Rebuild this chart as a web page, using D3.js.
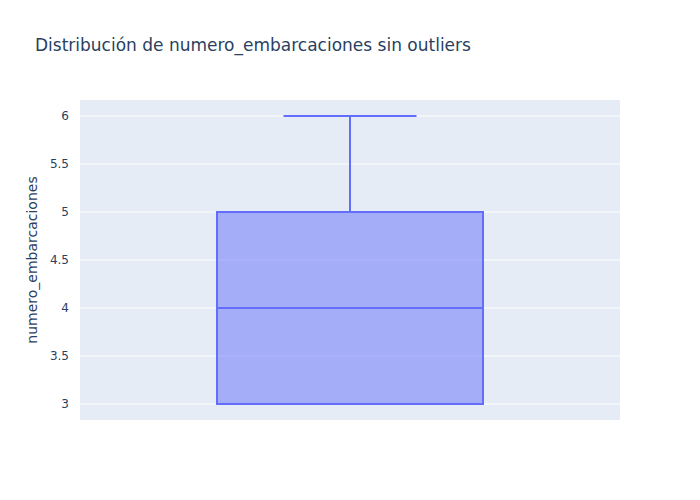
<!DOCTYPE html>
<html>
<head>
<meta charset="utf-8">
<script src="https://cdn.jsdelivr.net/npm/d3@7"></script>
<style>
body { margin: 0; background: #fff; }
svg { display: block; font-family: "DejaVu Sans", verdana, arial, sans-serif; }
</style>
</head>
<body>
<div id="chart"></div>
<script>
const categories = ["numero_embarcaciones"];
const lowerFence = [3];
const q1 = [3];
const median = [4];
const q3 = [5];
const upperFence = [6];
const yTicks = [3, 3.5, 4, 4.5, 5, 5.5, 6];

const W = 700, H = 500;
const m = { l: 80, r: 80, t: 100, b: 80 };
const FONT = '"DejaVu Sans", verdana, arial, sans-serif';
const svg = d3.select("#chart").append("svg").attr("width", W).attr("height", H);

svg.append("rect").attr("x", m.l).attr("y", m.t)
  .attr("width", W - m.l - m.r).attr("height", H - m.t - m.b).attr("fill", "#e5ecf6");

const y = d3.scaleLinear().domain([2.8333, 6.1667]).range([H - m.b, m.t]);
const x = d3.scaleBand().domain(categories).range([m.l, W - m.r]);

// grid
svg.append("g").selectAll("line").data(yTicks).join("line")
  .attr("x1", m.l).attr("x2", W - m.r)
  .attr("y1", d => y(d)).attr("y2", d => y(d))
  .attr("stroke", "#fff").attr("stroke-width", 1);

// y axis labels
const yAxis = d3.axisLeft(y).tickValues(yTicks).tickSize(0).tickPadding(0)
  .tickFormat(d3.format("~g"));
const ga = svg.append("g").attr("transform", `translate(${m.l - 11},0)`).call(yAxis);
ga.select(".domain").remove();
ga.selectAll("text").attr("fill", "#2a3f5f").style("font-size", "12px")
  .style("font-family", FONT);

// y title
svg.append("text")
  .attr("transform", `translate(37,${(m.t + H - m.b) / 2}) rotate(-90)`)
  .attr("text-anchor", "middle").attr("fill", "#2a3f5f").style("font-size", "14px")
  .text("numero_embarcaciones");

// title
svg.append("text").attr("x", 35).attr("y", 51)
  .attr("fill", "#2a3f5f").style("font-size", "17px")
  .text("Distribución de numero_embarcaciones sin outliers");

// boxes
const boxFrac = 0.4926;
const whiskFrac = boxFrac / 2;
categories.forEach((c, i) => {
  const cx = x(c) + x.bandwidth() / 2;
  const bw = x.bandwidth() * boxFrac;
  const ww = x.bandwidth() * whiskFrac;
  const g = svg.append("g");
  g.append("rect").attr("x", cx - bw / 2).attr("y", y(q3[i]))
    .attr("width", bw).attr("height", y(q1[i]) - y(q3[i]))
    .attr("fill", "rgba(99,110,250,0.5)").attr("stroke", "#636efa").attr("stroke-width", 2);
  g.append("line").attr("x1", cx - bw / 2).attr("x2", cx + bw / 2)
    .attr("y1", y(median[i])).attr("y2", y(median[i]))
    .attr("stroke", "#636efa").attr("stroke-width", 2);
  g.append("line").attr("x1", cx).attr("x2", cx)
    .attr("y1", y(q3[i])).attr("y2", y(upperFence[i]))
    .attr("stroke", "#636efa").attr("stroke-width", 2);
  g.append("line").attr("x1", cx - ww / 2).attr("x2", cx + ww / 2)
    .attr("y1", y(upperFence[i])).attr("y2", y(upperFence[i]))
    .attr("stroke", "#636efa").attr("stroke-width", 2);
  g.append("line").attr("x1", cx).attr("x2", cx)
    .attr("y1", y(q1[i])).attr("y2", y(lowerFence[i]))
    .attr("stroke", "#636efa").attr("stroke-width", 2);
  g.append("line").attr("x1", cx - ww / 2).attr("x2", cx + ww / 2)
    .attr("y1", y(lowerFence[i])).attr("y2", y(lowerFence[i]))
    .attr("stroke", "#636efa").attr("stroke-width", 2);
});
</script>
</body>
</html>
